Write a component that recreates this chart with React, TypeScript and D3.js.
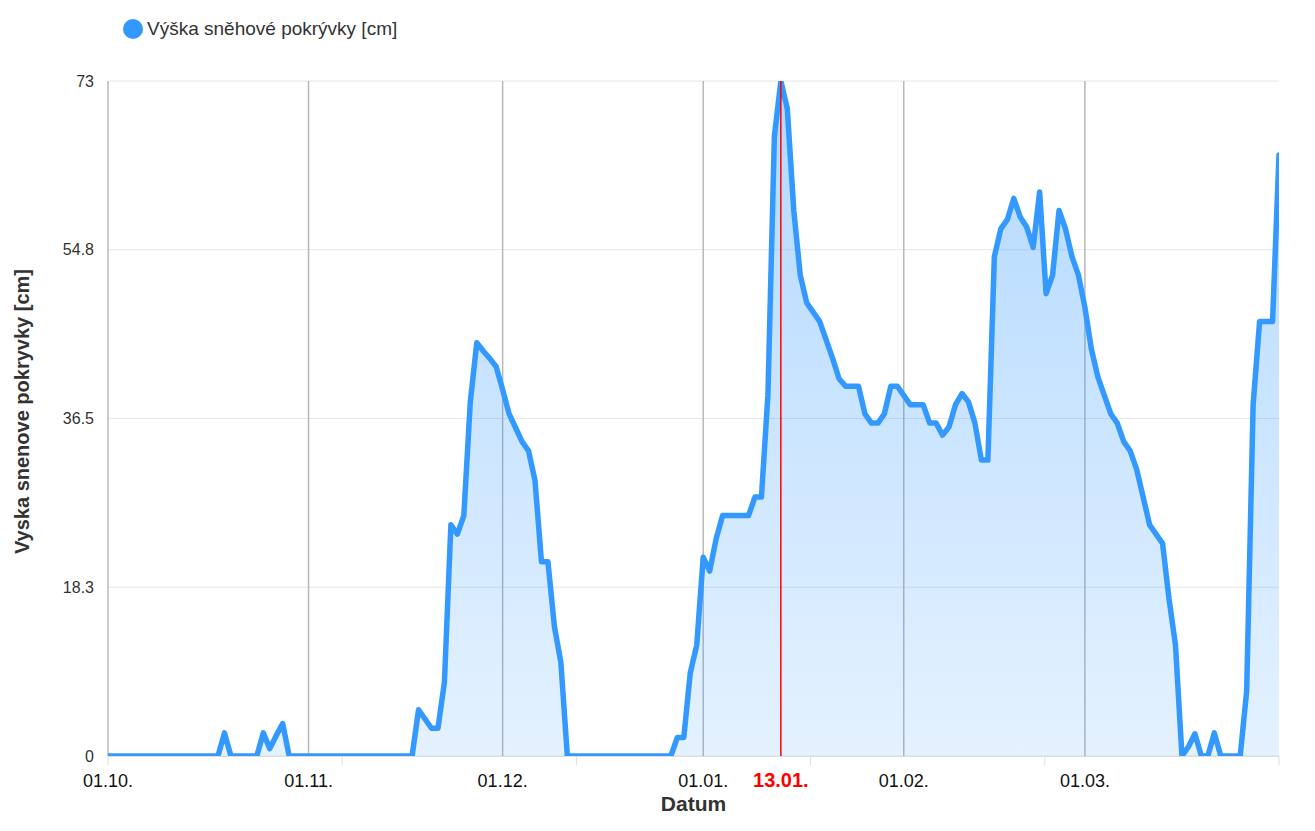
import React from "react";
import * as d3 from "d3";

// Snow depth [cm], one value per day, by month (season 2022/23)
const oct = [0, 0, 0, 0, 0, 0, 0, 0, 0, 0, 0, 0, 0, 0, 0, 0, 0, 0, 2.5, 0, 0, 0, 0, 0, 2.5, 0.8, 2.2, 3.5, 0, 0, 0];
const nov = [0, 0, 0, 0, 0, 0, 0, 0, 0, 0, 0, 0, 0, 0, 0, 0, 0, 5, 4, 3, 3, 8, 25, 24, 26, 38.3, 44.7, 43.8, 43, 42.1];
const dec = [39.6, 37, 35.5, 34, 33, 29.8, 21, 21, 14, 10.1, 0, 0, 0, 0, 0, 0, 0, 0, 0, 0, 0, 0, 0, 0, 0, 0, 0, 2, 2, 9, 12];
const jan = [21.5, 20, 23.5, 26, 26, 26, 26, 26, 28, 28, 39, 67, 73, 70, 59, 52, 49, 48, 47, 45, 43, 40.8, 40, 40, 40, 37, 36, 36, 37, 40, 40];
const feb = [39, 38, 38, 38, 36, 36, 34.7, 35.6, 38, 39.2, 38.3, 36, 32, 32, 54, 57, 58, 60.3, 58.3, 57.2, 55, 61, 50, 52, 59, 57, 54, 52];
const mar = [48.5, 44, 41, 39, 37, 36, 34, 33, 31, 28, 25, 24, 23, 17, 12, 0, 1, 2.4, 0, 0, 2.5, 0, 0, 0, 0, 7, 38, 47, 47, 47, 65];

const monthYears = [2022, 2022, 2022, 2023, 2023, 2023];
const monthIndex = [9, 10, 11, 0, 1, 2];
const monthValues = [oct, nov, dec, jan, feb, mar];
const monthLabels = ["01.10.", "01.11.", "01.12.", "01.01.", "01.02.", "01.03."];

const domainStart = Date.UTC(2022, 9, 1);
const domainEnd = Date.UTC(2023, 2, 31);
const highlightDate = Date.UTC(2023, 0, 13);
const highlightLabel = "13.01.";

const yTicks = [0, 18.25, 36.5, 54.75, 73];
const yTickLabels = ["0", "18.3", "36.5", "54.8", "73"];

const seriesName = "Výška sněhové pokrývky [cm]";
const yTitle = "Vyska snenove pokryvky [cm]";
const xTitle = "Datum";

type Pt = { date: Date; value: number };
const data: Pt[] = [];
monthValues.forEach((vals, mi) => {
  vals.forEach((v, di) => {
    data.push({ date: new Date(Date.UTC(monthYears[mi], monthIndex[mi], di + 1)), value: v });
  });
});

const W = 1315;
const H = 831;
const M = { left: 108, right: 36, top: 81, bottom: 75 };
const FONT = "Arial, 'Liberation Sans', Helvetica, sans-serif";
const BLUE = "#3399ff";

export default function App() {
  const x = d3.scaleUtc().domain([new Date(domainStart), new Date(domainEnd)]).range([M.left, W - M.right]);
  const y = d3.scaleLinear().domain([0, 73]).range([H - M.bottom, M.top]);
  const x0 = M.left;
  const x1 = W - M.right;
  const yb = H - M.bottom;

  const line = d3.line<Pt>().x((d) => x(d.date)).y((d) => y(d.value));
  const area = d3
    .area<Pt>()
    .x((d) => x(d.date))
    .y0(y(0))
    .y1((d) => y(d.value));

  const monthStarts = monthIndex.map((m, i) => new Date(Date.UTC(monthYears[i], m, 1)));
  const tickScale = d3.scaleLinear().domain([0, 5]).range([x0, x1]);
  const tickPos = d3.range(6).map((i) => tickScale(i));

  return (
    <svg width={W} height={H} style={{ position: "absolute", left: 0, top: 0, background: "#fff" }} fontFamily={FONT}>
      <defs>
        <linearGradient id="fillGrad" gradientUnits="userSpaceOnUse" x1={0} y1={M.top} x2={0} y2={yb}>
          <stop offset="0" stopColor={BLUE} stopOpacity={0.38} />
          <stop offset="1" stopColor={BLUE} stopOpacity={0.13} />
        </linearGradient>
        <clipPath id="plotClip">
          <rect x={x0} y={M.top} width={x1 - x0} height={yb - M.top + 1} />
        </clipPath>
      </defs>

      {/* legend */}
      <circle cx={133} cy={29} r={10} fill={BLUE} />
      <text x={147} y={35} fontSize={19} fill="#333">
        {seriesName}
      </text>

      {/* horizontal grid */}
      {yTicks.map((t, i) => (
        <line key={"g" + i} x1={x0} x2={x1} y1={y(t)} y2={y(t)} stroke="#e6e6e6" strokeWidth={1} />
      ))}
      {/* month plot lines */}
      {monthStarts.map((d, i) => (
        <line key={"m" + i} x1={x(d)} x2={x(d)} y1={M.top} y2={yb} stroke="#b8b8b8" strokeWidth={1.5} />
      ))}

      <g clipPath="url(#plotClip)">
        <path d={area(data) || ""} fill="url(#fillGrad)" />
        <path d={line(data) || ""} fill="none" stroke={BLUE} strokeWidth={5.5} strokeLinejoin="round" strokeLinecap="round" />
      </g>

      {/* highlight line */}
      <line x1={x(new Date(highlightDate))} x2={x(new Date(highlightDate))} y1={M.top} y2={yb} stroke="#ff0000" strokeWidth={1.5} />

      {/* x axis line and ticks */}
      <line x1={x0} x2={x1} y1={yb + 0.5} y2={yb + 0.5} stroke="#dddddd" strokeWidth={1} />
      {tickPos.map((p, i) => (
        <line key={"t" + i} x1={p} x2={p} y1={yb} y2={yb + 9} stroke="#dddddd" strokeWidth={1} />
      ))}

      {/* y labels */}
      {yTicks.map((t, i) => (
        <text key={"yl" + i} x={94} y={y(t)} dy="0.35em" textAnchor="end" fontSize={16} fill="#333">
          {yTickLabels[i]}
        </text>
      ))}

      {/* x labels */}
      {monthStarts.map((d, i) => (
        <text key={"xl" + i} x={x(d)} y={787} textAnchor="middle" fontSize={18} fill="#111">
          {monthLabels[i]}
        </text>
      ))}
      <text x={x(new Date(highlightDate))} y={787} textAnchor="middle" fontSize={20} fontWeight="bold" fill="#ff0000">
        {highlightLabel}
      </text>

      {/* axis titles */}
      <text x={(x0 + x1) / 2} y={811} textAnchor="middle" fontSize={21} fontWeight="bold" fill="#333">
        {xTitle}
      </text>
      <text
        transform={`translate(29, ${(M.top + yb) / 2 - 7}) rotate(-90)`}
        textAnchor="middle"
        fontSize={20}
        fontWeight="bold"
        fill="#333"
      >
        {yTitle}
      </text>
    </svg>
  );
}
